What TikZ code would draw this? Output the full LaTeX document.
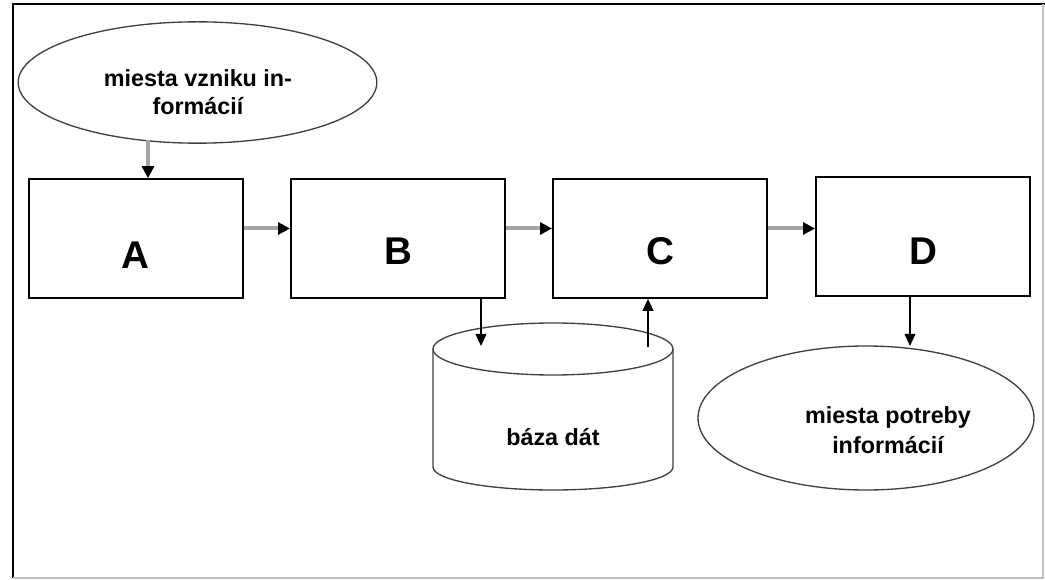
\documentclass[tikz,border=0pt]{standalone}
\usepackage{fontspec}
\setmainfont{Liberation Sans}
\usetikzlibrary{arrows.meta,shapes,positioning}

\begin{document}
\begin{tikzpicture}[x=0.75pt, y=-0.75pt,
		box/.style={draw, line width=1.5pt, minimum width=160.5pt, minimum height=89pt, inner sep=0pt},
		tag/.style={font=\bfseries\fontsize{29}{30}\selectfont},
		place/.style={ellipse, draw=black!75, line width=1pt, inner sep=0pt},
		txt/.style={font=\bfseries\fontsize{17.5}{21}\selectfont, align=center},
		flow/.style={draw=black!35, line width=3pt, -{Triangle[length=9pt,width=9pt,color=black]}},
		link/.style={draw=black, line width=1.2pt, -{Triangle[length=9pt,width=8pt]}}
		]

		\useasboundingbox (0,0) rectangle (1045,580);

		% frame
		\draw[line width=2.2pt] (13,578) -- (13,4) -- (1045,4);
		\draw[black!25, line width=1.5pt] (13,578) -- (1043,578) -- (1043,4);

		% sources and targets
		\node[place, minimum width=269pt, minimum height=91pt] (src) at (197.5,82.5) {};
		\node[txt] (srctext) at (198,92) {miesta vzniku in-\\formácií};
		\node[place, minimum width=252pt, minimum height=108pt] (dst) at (866,418) {};
		\node[txt, font=\bfseries\fontsize{17.5}{22.5}\selectfont] (dsttext) at (888,430) {miesta potreby\\informácií};

		% boxes
		\node[box] (A) at (135.5,238.5) {};
		\node[box] (B) at (398,238.5) {};
		\node[box] (C) at (660,238.5) {};
		\node[box] (D) at (923,236.5) {};
		\node[tag] (Atag) at (135.5,255) {A};
		\node[tag] (Btag) at (398,251) {B};
		\node[tag] (Ctag) at (660,251) {C};
		\node[tag] (Dtag) at (923,251) {D};

		% database
		\draw[black!75, line width=1pt] (433,349) -- (433,467) arc[start angle=180, end angle=0, x radius=120, y radius=23] -- (673,349);
		\draw[black!75, line width=1pt] (553,349) ellipse[x radius=120, y radius=26];
		\node[txt] (db) at (553,437) {báza dát};

		\coordinate (srcout) at (148,140);
		\coordinate (dbin) at (481,346);
		\coordinate (dbout) at (648,347);
		\coordinate (dstin) at (910,346);

		\draw[flow] (srcout) -- (srcout |- A.north);
		\draw[flow] ([yshift=7.5pt]A.east) -- ([yshift=7.5pt]B.west);
		\draw[flow] ([yshift=7.5pt]B.east) -- ([yshift=7.5pt]C.west);
		\draw[flow] ([yshift=7.5pt]C.east) -- ([yshift=6pt]D.west);
		\draw[link] (dbin |- B.south) -- (dbin);
		\draw[link] (dbout) -- (dbout |- C.south);
		\draw[link] (dstin |- D.south) -- (dstin);

	\end{tikzpicture}
\end{document}
